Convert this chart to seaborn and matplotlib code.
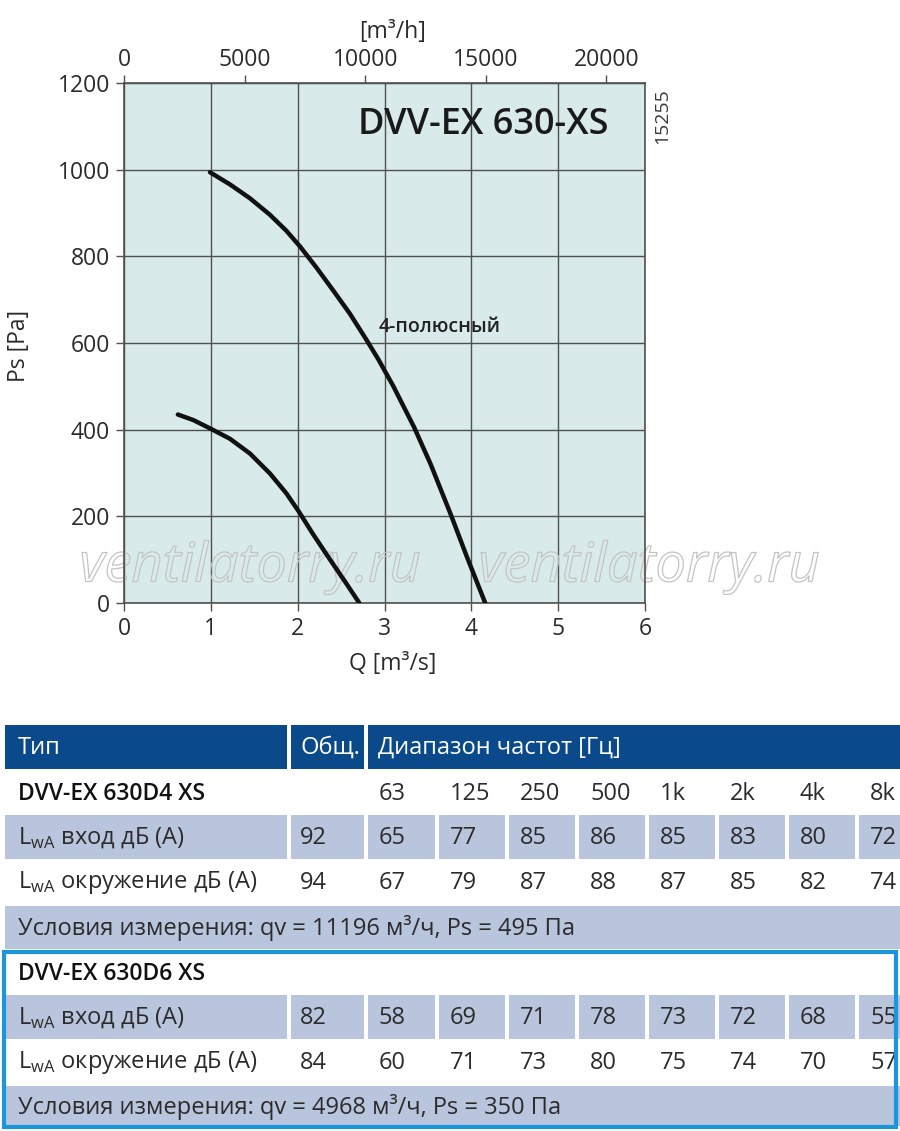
import matplotlib
matplotlib.use("Agg")
import matplotlib.pyplot as plt
from matplotlib import patheffects
from matplotlib.patches import Rectangle
import seaborn as sns
import pandas as pd

# fan curves (Q in m3/s, Ps in Pa)
q_4pole = [0.99, 1.22, 1.45, 1.68, 1.87, 2.03, 2.22, 2.41, 2.60, 2.79, 2.93,
           3.10, 3.34, 3.53, 3.76, 3.95, 4.16]
ps_4pole = [994, 966, 934, 896, 859, 822, 773, 721, 668, 608, 562,
            501, 406, 321, 206, 106, 0]
q_6pole = [0.62, 0.80, 1.00, 1.22, 1.45, 1.68, 1.87, 2.01, 2.18, 2.37, 2.54, 2.71]
ps_6pole = [435, 422, 402, 379, 345, 299, 253, 212, 158, 101, 51, 0]

x_ticks = [0, 1, 2, 3, 4, 5, 6]
y_ticks = [0, 200, 400, 600, 800, 1000, 1200]
top_ticks = [0, 5000, 10000, 15000, 20000]

# sound table
freq_labels = ["63", "125", "250", "500", "1k", "2k", "4k", "8k"]
d4_inlet_total = 92
d4_inlet = [65, 77, 85, 86, 85, 83, 80, 72]
d4_env_total = 94
d4_env = [67, 79, 87, 88, 87, 85, 82, 74]
d6_inlet_total = 82
d6_inlet = [58, 69, 71, 78, 73, 72, 68, 55]
d6_env_total = 84
d6_env = [60, 71, 73, 80, 75, 74, 70, 57]
d4_name = "DVV-EX 630D4 XS"
d6_name = "DVV-EX 630D6 XS"
d4_cond = "Условия измерения: qv = 11196 м³/ч, Ps = 495 Па"
d6_cond = "Условия измерения: qv = 4968 м³/ч, Ps = 350 Па"

sns.set_style("white")
plt.rcParams["font.family"] = ["Open Sans", "DejaVu Sans"]
plt.rcParams["mathtext.fontset"] = "custom"
plt.rcParams["mathtext.rm"] = "Open Sans"

TXT = "#2b2b2b"
GRID = "#505050"
PLOT_BG = "#d8ebea"
HEAD = "#0b4a8a"
SHADE = "#b9c5dc"
FRAME = "#1b95db"

W, H = 900, 1131
fig = plt.figure(figsize=(9, 11.31), dpi=100)
ax = fig.add_axes([124 / W, 1 - 603 / H, 521 / W, 520 / H])
ax.set_facecolor(PLOT_BG)

df = pd.DataFrame({
    "q": q_4pole + q_6pole,
    "ps": ps_4pole + ps_6pole,
    "curve": ["4"] * len(q_4pole) + ["6"] * len(q_6pole),
})
for name, sub in df.groupby("curve"):
    sns.lineplot(data=sub, x="q", y="ps", sort=False, estimator=None,
                 color="#111111", lw=3.2, ax=ax, legend=False, zorder=3)
for line in ax.lines:
    line.set_solid_joinstyle("round")

ax.set_xlim(0, 6)
ax.set_ylim(0, 1200)
ax.set_xticks(x_ticks)
ax.set_yticks(y_ticks)
ax.grid(True, color=GRID, lw=1.0)
for s in ax.spines.values():
    s.set_color(GRID)
    s.set_linewidth(1.2)
ax.tick_params(axis="both", direction="out", length=6, width=1, color=GRID,
               labelsize=16.5, labelcolor=TXT, pad=4)
ax.tick_params(axis="x", bottom=True, top=False)
ax.tick_params(axis="y", left=True, right=False)

ax.set_xlabel("Q [m³/s]", fontsize=16.5, color=TXT)
ax.xaxis.set_label_coords((393 - 124) / 521, (603 - 652) / 520)
ax.set_ylabel("Ps [Pa]", fontsize=16.5, color=TXT)
ax.yaxis.set_label_coords((31 - 124) / 521, (603 - 346) / 520)

secax = ax.secondary_xaxis("top", functions=(lambda q: q * 3600, lambda h: h / 3600))
secax.set_xticks(top_ticks)
secax.tick_params(direction="out", length=6, width=1, color=GRID,
                  labelsize=16.5, labelcolor=TXT, pad=2)
secax.spines["top"].set_color(GRID)
secax.set_xlabel("[m³/h]", fontsize=16.5, color=TXT)
secax.xaxis.set_label_coords((393 - 124) / 521, (603 - 38) / 520,
                             transform=ax.transAxes)

ax.text(5.58, 1082, "DVV-EX 630-XS", fontsize=26, fontweight="semibold",
        color="#1a1a1a", ha="right", va="baseline")
ax.text(2.93, 637, "4-полюсный", fontsize=14, fontweight="semibold",
        color="#222222", ha="left", va="center")
fig.text(662 / W, 1 - 116 / H, "15255", rotation=90, fontsize=14,
         color="#3a3a3a", ha="center", va="center")

# watermark
for cx in [250, 649]:
    ax.text(cx / W, 1 - 567 / H, "ventilatorry.ru", transform=fig.transFigure,
            fontsize=39, style="italic", color="none", ha="center", va="center",
            clip_on=False, zorder=1.5,
            path_effects=[patheffects.Stroke(linewidth=0.9, foreground="#c4c4c4")])

# table in pixel coordinates
tab = fig.add_axes([0, 0, 1, 1])
tab.set_xlim(0, W)
tab.set_ylim(H, 0)
tab.axis("off")
tab.patch.set_alpha(0)

col_left = [5, 291, 368, 439, 509, 579, 649, 719, 789, 859]
col_right = [287, 364, 435, 505, 575, 645, 715, 785, 855, 900]
FS = 17


def box(x0, x1, y0, y1, color):
    tab.add_patch(Rectangle((x0, y0), x1 - x0, y1 - y0, facecolor=color,
                            edgecolor="none", zorder=1))


def put(x, y, s, **kw):
    kw.setdefault("color", TXT)
    kw.setdefault("fontsize", FS)
    tab.text(x, y, s, ha="left", va="center", zorder=3, **kw)


# header
box(5, 287, 725, 769, HEAD)
box(291, 364, 725, 769, HEAD)
box(368, 900, 725, 769, HEAD)
put(18, 748, "Тип", color="white")
put(300, 748, "Общ.", color="white")
put(378, 748, "Диапазон частот [Гц]", color="white")


def shaded_cells(y0, y1):
    for a, b in zip(col_left, col_right):
        box(a, b, y0, y1, SHADE)


def value_row(yc, label, total, vals):
    put(18, yc, label)
    put(col_left[1] + 9, yc, str(total))
    for i, v in enumerate(vals):
        put(col_left[i + 2] + 11, yc, str(v))


lbl_in = r"L$_{\mathrm{wA}}$ вход дБ (A)"
lbl_env = r"L$_{\mathrm{wA}}$ окружение дБ (A)"

# DVV-EX 630D4 XS block
put(18, 794, d4_name, fontweight="semibold", color="#111111", fontsize=16.5)
for i, f in enumerate(freq_labels):
    put(col_left[i + 2] + 11, 794, f)
shaded_cells(815, 859)
value_row(838, lbl_in, d4_inlet_total, d4_inlet)
value_row(883, lbl_env, d4_env_total, d4_env)
box(5, 900, 906, 949, SHADE)
put(18, 928, d4_cond)

# DVV-EX 630D6 XS block (framed)
put(18, 974, d6_name, fontweight="semibold", color="#111111", fontsize=16.5)
shaded_cells(995, 1039)
value_row(1018, lbl_in, d6_inlet_total, d6_inlet)
value_row(1063, lbl_env, d6_env_total, d6_env)
box(5, 900, 1086, 1126, SHADE)
put(18, 1107, d6_cond)
tab.add_patch(Rectangle((4, 952), 892, 175, facecolor="none", edgecolor=FRAME,
                        lw=3, zorder=4))

fig.savefig("out.png", dpi=100)
